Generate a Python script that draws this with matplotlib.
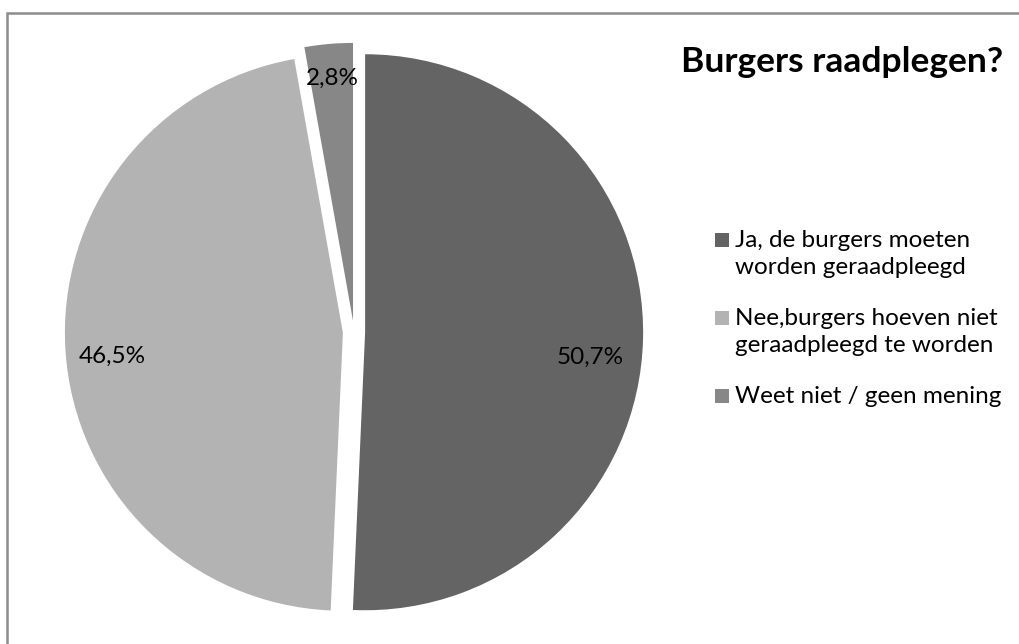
import matplotlib.pyplot as plt
from matplotlib.patches import Rectangle

W_PX, H_PX = 1020, 644

labels = ["Ja, de burgers moeten\nworden geraadpleegd",
          "Nee,burgers hoeven niet\ngeraadpleegd te worden",
          "Weet niet / geen mening"]
shares = [50.7, 46.5, 2.8]
colors = ["#646464", "#b3b3b3", "#878787"]
title = "Burgers raadplegen?"


def main():
    plt.rcParams['font.family'] = ['Lato', 'DejaVu Sans']
    fig = plt.figure(figsize=(W_PX / 100, H_PX / 100), dpi=100)

    # pie placed so that radius 1 = 278 px, centre at (354, 332) px
    radius_px = 278
    cx, cy = 354, H_PX - 332
    half = 1.1 * radius_px
    ax = fig.add_axes([(cx - half) / W_PX, (cy - half) / H_PX,
                       2 * half / W_PX, 2 * half / H_PX])

    wedges, texts, autotexts = ax.pie(
        shares, colors=colors, startangle=90, counterclock=False,
        explode=[0.04] * len(shares),
        autopct=lambda p: f"{p:.1f}%".replace(".", ","),
        pctdistance=0.84,
        textprops={'fontsize': 17.5, 'color': 'black'},
        wedgeprops={'linewidth': 0})
    # small nudges so the labels sit where Excel put them
    nudges = [(-0.03, -0.072), (0.007, -0.029), (0.0, 0.035)]
    for t, (dx, dy) in zip(autotexts, nudges):
        x, y = t.get_position()
        t.set_position((x + dx, y + dy))
    ax.set_xlim(-1.1, 1.1)
    ax.set_ylim(-1.1, 1.1)
    ax.axis('off')

    fig.text(681 / W_PX, 1 - 62 / H_PX, title, fontsize=25.5, fontweight='bold',
             ha='left', va='center')

    # legend drawn by hand: square next to the first line of each label
    line_px = 28
    y = 240
    for lab, col in zip(labels, colors):
        fig.add_artist(Rectangle((715 / W_PX, 1 - (y + 7) / H_PX),
                                 14 / W_PX, 14 / H_PX,
                                 transform=fig.transFigure,
                                 facecolor=col, edgecolor='none'))
        fig.text(735 / W_PX, 1 - (y - 10) / H_PX, lab, fontsize=17.5,
                 ha='left', va='top', linespacing=1.38)
        y += line_px * (lab.count("\n") + 1) + 22

    # screenshot border: only left and top visible
    fig.add_artist(Rectangle((7 / W_PX, -0.1), 1.2, 1.1 - 13 / H_PX,
                             transform=fig.transFigure, fill=False,
                             edgecolor='#8c8c8c', linewidth=1.8))

    fig.savefig('out.png', dpi=100)
    plt.close(fig)


if __name__ == "__main__":
    main()
